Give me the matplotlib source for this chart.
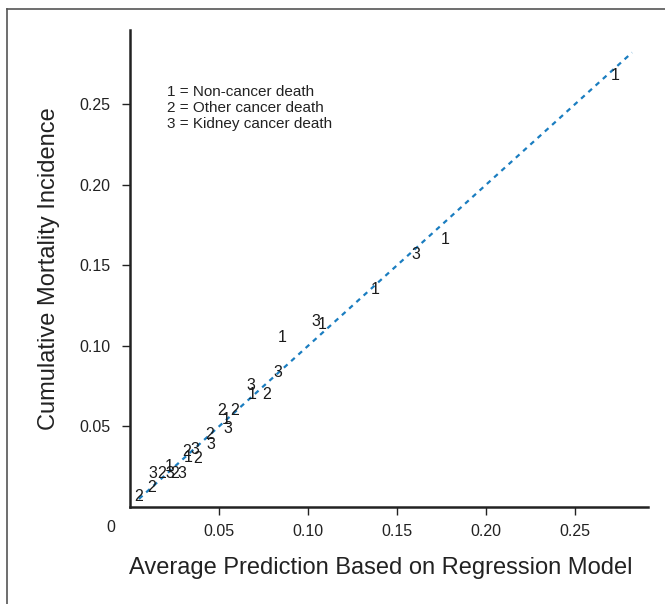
import matplotlib
matplotlib.use('Agg')
import matplotlib.pyplot as plt
from matplotlib.lines import Line2D

plt.rcParams['font.family'] = ['Liberation Sans', 'DejaVu Sans']

non_cancer_x = [0.0221, 0.0328, 0.0543, 0.0689, 0.0854, 0.1079, 0.1376, 0.1770, 0.2725]
non_cancer_y = [0.0250, 0.0306, 0.0540, 0.0696, 0.1050, 0.1130, 0.1348, 0.1660, 0.2677]

other_cancer_x = [0.0051, 0.0122, 0.0178, 0.0253, 0.0319, 0.0378, 0.0446, 0.0515, 0.0590, 0.0768]
other_cancer_y = [0.0068, 0.0122, 0.0209, 0.0209, 0.0343, 0.0302, 0.0453, 0.0598, 0.0598, 0.0700]

kidney_x = [0.0128, 0.0225, 0.0290, 0.0365, 0.0453, 0.0552, 0.0680, 0.0833, 0.1045, 0.1607]
kidney_y = [0.0209, 0.0209, 0.0209, 0.0354, 0.0385, 0.0489, 0.0752, 0.0834, 0.1149, 0.1570]

ref_line = [0.005, 0.282]
ticks = [0.05, 0.10, 0.15, 0.20, 0.25]
tick_labels = ['0.05', '0.10', '0.15', '0.20', '0.25']
legend_lines = ['1 = Non-cancer death', '2 = Other cancer death', '3 = Kidney cancer death']

fig = plt.figure(figsize=(6.65, 6.04), dpi=100)
ax = fig.add_axes([0.1955, 0.1606, 0.779, 0.7897])

ax.plot(ref_line, ref_line, color='#1a7dc0', lw=1.6, dashes=(2.2, 2.2))

for xs, ys, lab in [(non_cancer_x, non_cancer_y, '1'),
                    (other_cancer_x, other_cancer_y, '2'),
                    (kidney_x, kidney_y, '3')]:
    for x, y in zip(xs, ys):
        ax.text(x, y, lab, ha='center', va='center', fontsize=11.5, color='#1a1a1a')

ax.set_xlim(0, 0.291)
ax.set_ylim(0, 0.296)
ax.set_xticks(ticks)
ax.set_xticklabels(tick_labels)
ax.set_yticks(ticks)
ax.set_yticklabels(tick_labels)
ax.tick_params(direction='out', length=6, width=1, labelsize=11.5, colors='#222222', pad=8)
ax.tick_params(axis='x', pad=6)
for s in ['top', 'right']:
    ax.spines[s].set_visible(False)
for s in ['left', 'bottom']:
    ax.spines[s].set_linewidth(1.8)
    ax.spines[s].set_color('#222222')

# shared origin label
ax.text(-0.0107, -0.0125, '0', ha='center', va='center', fontsize=11.5, color='#222222',
        clip_on=False)

ax.set_xlabel('Average Prediction Based on Regression Model', fontsize=17, color='#222222')
ax.xaxis.set_label_coords(0.484, -0.105)
ax.set_ylabel('Cumulative Mortality Incidence', fontsize=17, color='#222222', labelpad=14)

for i, t in enumerate(legend_lines):
    ax.text(0.071, 0.87 - i * 0.034, t, transform=ax.transAxes, fontsize=11,
            color='#222222', va='center', ha='left')

# outer frame lines (top and left)
fig.add_artist(Line2D([7 / 665, 1], [1 - 9 / 604, 1 - 9 / 604], transform=fig.transFigure,
                      color='#555555', lw=1.2))
fig.add_artist(Line2D([7 / 665, 7 / 665], [0, 1 - 9 / 604], transform=fig.transFigure,
                      color='#555555', lw=1.2))

fig.savefig('out.png', dpi=100)
